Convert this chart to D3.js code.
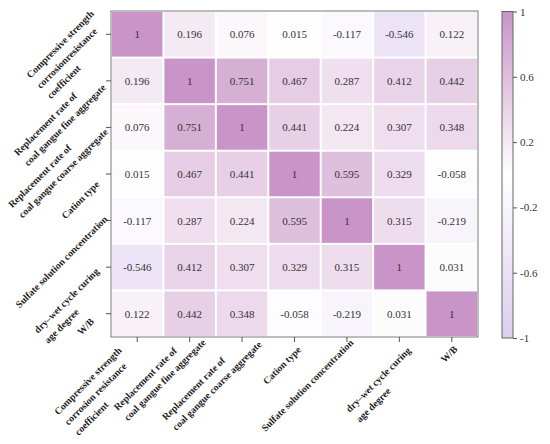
<!DOCTYPE html>
<html>
<head>
    <meta charset="UTF-8">
    <title>Correlation heatmap</title>
    <script src="https://d3js.org/d3.v7.min.js"></script>
    <style type="text/css">
        body { margin: 0; background: #fff; }
        .lab { font-family: "Liberation Serif", "Times New Roman", serif; font-weight: bold; font-size: 9.8px; fill: #222; }
        .cell_txt { font-family: "Liberation Serif", "Times New Roman", serif; font-size: 11px; fill: #333; }
        .key_axis text { font-family: "Liberation Serif", "Times New Roman", serif; font-size: 11px; fill: #333; }
    </style>
</head>
<body>
    <svg id="chart"></svg>

    <script>
        // layout constants
        const WIDTH = 550;
        const HEIGHT = 444;
        const plot = {left: 111, right: 478, top: 11, bottom: 337};
        const key_box = {left: 502, right: 513, top: 11.5, bottom: 338};
        const TICK = 5;
        const LINE_H = 14.5;

        // variable names, one entry per line of the label
        const y_labels = [
            ["Compressive strength", "corrosionresistance", "coefficient"],
            ["Replacement rate of", "coal gangue fine aggregate"],
            ["Replacement rate of", "coal gangue coarse aggregate"],
            ["Cation type"],
            ["Sulfate solution concentration"],
            ["dry\u2013wet cycle curing", "age degree"],
            ["W/B"]
        ];
        const x_labels = [
            ["Compressive strength", "corrosion resistance", "coefficient"],
            ["Replacement rate of", "coal gangue fine aggregate"],
            ["Replacement rate of", "coal gangue coarse aggregate"],
            ["Cation type"],
            ["Sulfate solution concentration"],
            ["dry\u2013wet cycle curing", "age degree"],
            ["W/B"]
        ];

        // correlation matrix, row by row (top to bottom)
        const corr = [
            [1, 0.196, 0.076, 0.015, -0.117, -0.546, 0.122],
            [0.196, 1, 0.751, 0.467, 0.287, 0.412, 0.442],
            [0.076, 0.751, 1, 0.441, 0.224, 0.307, 0.348],
            [0.015, 0.467, 0.441, 1, 0.595, 0.329, -0.058],
            [-0.117, 0.287, 0.224, 0.595, 1, 0.315, -0.219],
            [-0.546, 0.412, 0.307, 0.329, 0.315, 1, 0.031],
            [0.122, 0.442, 0.348, -0.058, -0.219, 0.031, 1]
        ];

        const key_ticks = [1, 0.6, 0.2, -0.2, -0.6, -1];

        // hand nudges for the rotated labels, [along text, across text] from the tick end
        // (the original figure places them a bit irregularly)
        const y_nudge = [[6, -22], [-5, -9], [-2, -9], [-12, 3.5], [2, 1], [-8, -1], [-14, -2]];
        const x_nudge = [[-17, -4], [11, -2], [12, 2], [-1, 11], [4, 6], [2, 15], [-1, 10]];

        const svg = d3.select("#chart")
            .attr("width", WIDTH)
            .attr("height", HEIGHT);

        const idx = d3.range(corr.length);

        const x = d3.scaleBand().domain(idx).range([plot.left, plot.right]);
        const y = d3.scaleBand().domain(idx).range([plot.top, plot.bottom]);

        const color_scale = d3.scaleLinear()
            .domain([-1, 0, 1])
            .range(["#dccdee", "#ffffff", "#c994c7"]);

        // flatten the matrix into cells
        const cells = [];
        corr.forEach((row, r) => row.forEach((v, c) => cells.push({r: r, c: c, v: v})));

        //---------cells-----------
        svg.selectAll(".cell").data(cells)
            .enter().append("rect")
            .attr("class", "cell")
            .attr("x", d => x(d.c) + 1)
            .attr("y", d => y(d.r) + 1)
            .attr("width", x.bandwidth() - 2)
            .attr("height", y.bandwidth() - 2)
            .style("fill", d => color_scale(d.v));

        svg.selectAll(".cell_txt").data(cells)
            .enter().append("text")
            .attr("class", "cell_txt")
            .attr("x", d => x(d.c) + x.bandwidth() / 2)
            .attr("y", d => y(d.r) + y.bandwidth() / 2 + 4)
            .attr("text-anchor", "middle")
            .text(d => d.v);

        // frame
        svg.append("rect")
            .attr("x", plot.left)
            .attr("y", plot.top)
            .attr("width", plot.right - plot.left)
            .attr("height", plot.bottom - plot.top)
            .style("fill", "none")
            .style("stroke", "#7a7a7a");

        // ticks
        const left_axis = svg.append("g")
            .attr("transform", `translate(${plot.left},0)`)
            .call(d3.axisLeft(y).tickSize(TICK).tickFormat(""));
        const bottom_axis = svg.append("g")
            .attr("transform", `translate(0,${plot.bottom})`)
            .call(d3.axisBottom(x).tickSize(TICK).tickFormat(""));
        [left_axis, bottom_axis].forEach(a => {
            a.select(".domain").remove();
            a.selectAll("line").style("stroke", "#555");
        });

        // rotated multi-line labels: lines left aligned, right edge of the block at
        // the anchor (+along), first baseline at +across
        const draw_label = function(lines, ax, ay, nudge) {
            const t = svg.append("text")
                .attr("class", "lab")
                .attr("transform", `translate(${ax},${ay}) rotate(-45)`);
            const spans = lines.map(s => t.append("tspan").text(s));
            const max_w = d3.max(spans, s => s.node().getComputedTextLength());
            spans.forEach((s, i) => {
                s.attr("x", -max_w + nudge[0])
                 .attr("y", i * LINE_H + nudge[1]);
            });
        };

        y_labels.forEach((lines, i) =>
            draw_label(lines, plot.left - TICK, y(i) + y.bandwidth() / 2, y_nudge[i]));
        x_labels.forEach((lines, i) =>
            draw_label(lines, x(i) + x.bandwidth() / 2, plot.bottom + TICK, x_nudge[i]));

        //---------Key-----------
        const key_scale = d3.scaleLinear()
            .domain([-1, 1])
            .range([key_box.bottom, key_box.top]);

        const grad = svg.append("defs")
            .append("linearGradient")
            .attr("id", "key-gradient")
            .attr("x1", "0%").attr("y1", "100%")
            .attr("x2", "0%").attr("y2", "0%");
        grad.selectAll("stop").data(color_scale.domain())
            .enter().append("stop")
            .attr("offset", d => (d + 1) / 2)
            .attr("stop-color", d => color_scale(d));

        svg.append("rect")
            .attr("x", key_box.left)
            .attr("y", key_box.top)
            .attr("width", key_box.right - key_box.left)
            .attr("height", key_box.bottom - key_box.top)
            .style("fill", "url(#key-gradient)")
            .style("stroke", "#666");

        const key_axis = svg.append("g")
            .attr("class", "key_axis")
            .attr("transform", `translate(${key_box.right},0)`)
            .call(d3.axisRight(key_scale)
                .tickValues(key_ticks)
                .tickSize(4)
                .tickPadding(3)
                .tickFormat(d => String(d)));
        key_axis.select(".domain").remove();
        key_axis.selectAll("line").style("stroke", "#555");
    </script>
</body>
</html>
